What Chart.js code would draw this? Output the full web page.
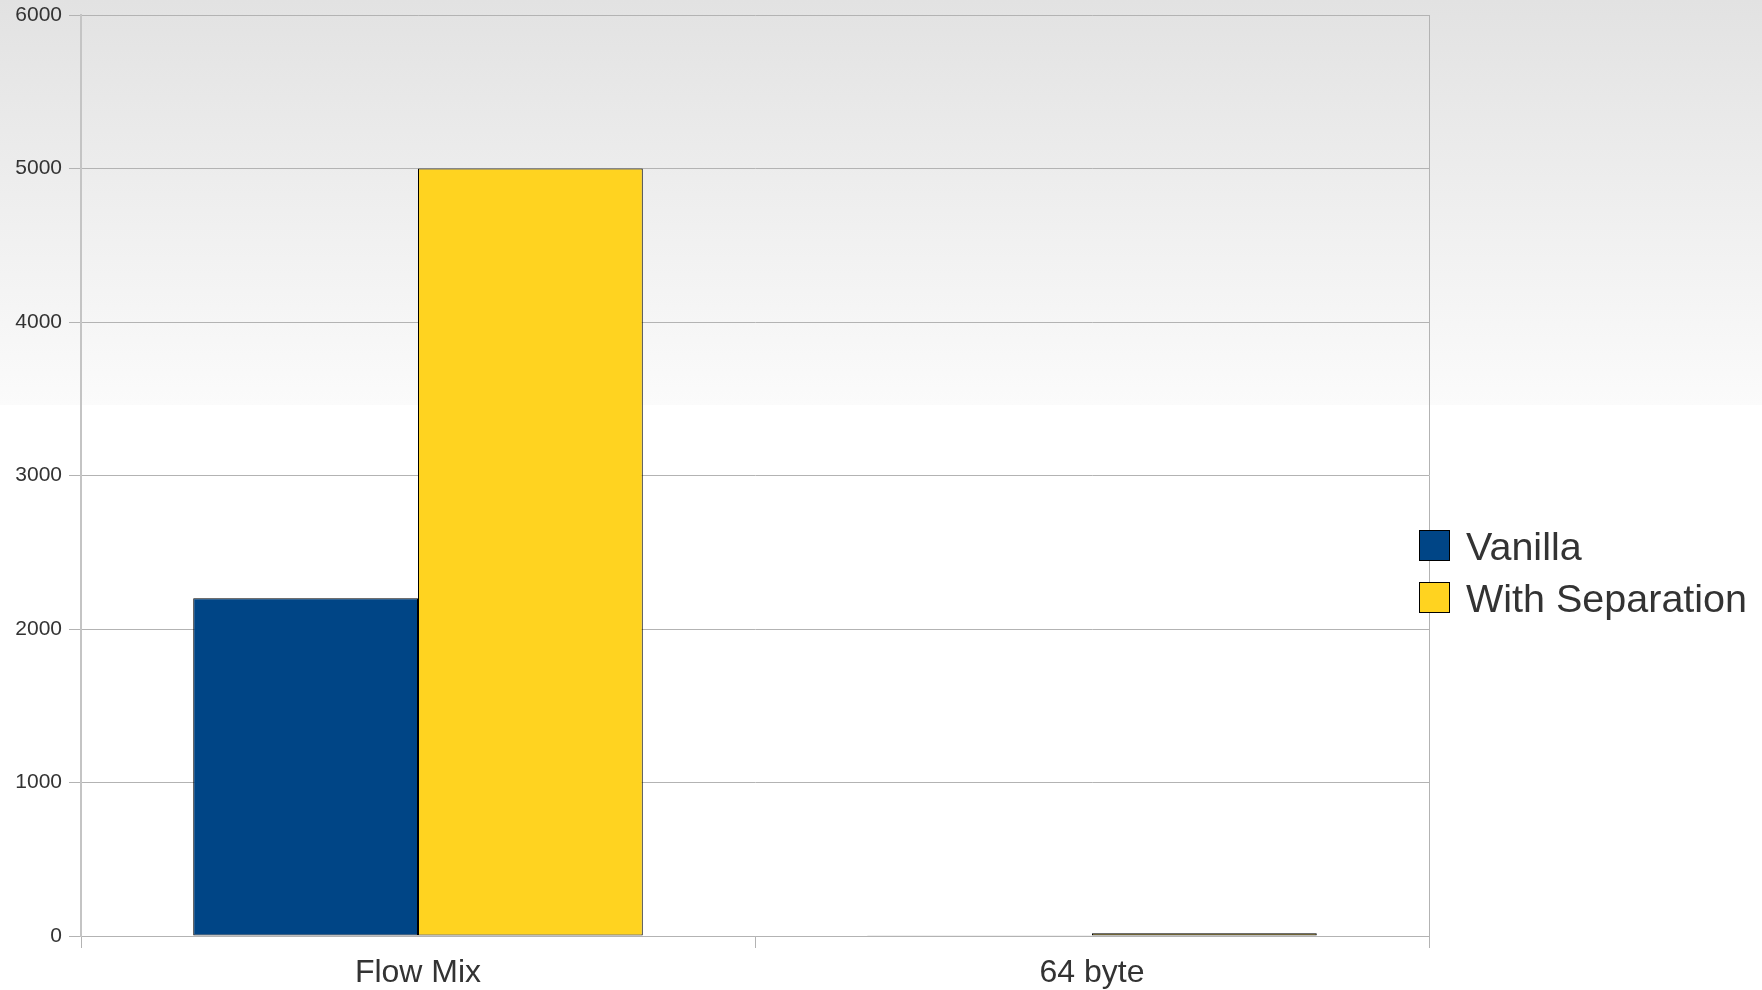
<!DOCTYPE html>
<html>
<head>
<meta charset="utf-8">
<title>Flow Mix vs 64 byte</title>
<script src="https://cdn.jsdelivr.net/npm/chart.js@4/dist/chart.umd.min.js"></script>
<style>
  body { margin: 0; background: #fff; }
  #wrap { width: 1762px; height: 990px; }
</style>
</head>
<body>
<div id="wrap"><canvas id="chart" width="1762" height="990"></canvas></div>
<script>
// Data
const categories = ["Flow Mix", "64 byte"];
const vanilla = [2200, 5];
const withSeparation = [5000, 18];
const yTicks = [0, 1000, 2000, 3000, 4000, 5000, 6000];

const textColor = "#333333";
const gridColor = "#b3b3b3";

// gray-to-white background band behind everything
const backgroundPlugin = {
  id: "bg",
  beforeDraw(chart) {
    const c = chart.ctx;
    c.save();
    c.fillStyle = "#ffffff";
    c.fillRect(0, 0, chart.width, chart.height);
    const g = c.createLinearGradient(0, 0, 0, 405);
    g.addColorStop(0, "#e2e2e2");
    g.addColorStop(1, "#fbfbfb");
    c.fillStyle = g;
    c.fillRect(0, 0, chart.width, 405);
    c.restore();
  }
};

// legend sits over the right edge of the plot, so draw it by hand
const sideLegend = {
  id: "sideLegend",
  afterDraw(chart) {
    const c = chart.ctx;
    const x = chart.chartArea.right - 10;
    let y = 530;
    c.save();
    c.font = "39.5px 'Liberation Sans', Arial, sans-serif";
    c.textBaseline = "middle";
    chart.data.datasets.forEach(ds => {
      c.fillStyle = ds.backgroundColor;
      c.fillRect(x, y, 31, 31);
      c.strokeStyle = "#000";
      c.lineWidth = 1;
      c.strokeRect(x + 0.5, y + 0.5, 30, 30);
      c.fillStyle = textColor;
      c.fillText(ds.label, x + 47, y + 19);
      y += 52;
    });
    c.restore();
  }
};

const ctx = document.getElementById("chart").getContext("2d");
const chart = new Chart(ctx, {
  type: "bar",
  data: {
    labels: categories,
    datasets: [{
      label: "Vanilla",
      data: vanilla,
      backgroundColor: "#004586",
      borderColor: "#000000",
      borderWidth: 1,
      borderSkipped: false,
    }, {
      label: "With Separation",
      data: withSeparation,
      backgroundColor: "#ffd320",
      borderColor: "#000000",
      borderWidth: 1,
      borderSkipped: false,
    }],
  },
  options: {
    responsive: false,
    animation: false,
    layout: { padding: { top: 15, right: 333, left: 0, bottom: 0 } },
    categoryPercentage: 0.667,
    barPercentage: 1,
    plugins: {
      legend: { display: false },
      tooltip: { enabled: false },
    },
    scales: {
      x: {
        afterFit(scale) { scale.height = 54; },
        grid: {
          offset: true,
          color: c => c.index === 1 ? "rgba(0,0,0,0)" : gridColor,
          tickColor: gridColor,
          tickLength: 12,
        },
        border: { color: gridColor },
        ticks: {
          color: textColor,
          padding: 6,
          font: { family: "'Liberation Sans', Arial, sans-serif", size: 32 },
        },
      },
      y: {
        min: 0,
        max: 6000,
        afterFit(scale) {
          scale.width = 81;
          scale.paddingTop = 0;
          scale.paddingBottom = 0;
        },
        afterBuildTicks(scale) { scale.ticks = yTicks.map(v => ({ value: v })); },
        grid: { color: gridColor, tickColor: gridColor, tickLength: 12 },
        border: { color: "#c4c4c4", width: 2 },
        ticks: {
          color: textColor,
          padding: 7,
          callback: v => String(v),
          font: { family: "'Liberation Sans', Arial, sans-serif", size: 21 },
        },
      },
    },
  },
  plugins: [backgroundPlugin, sideLegend],
});
</script>
</body>
</html>
